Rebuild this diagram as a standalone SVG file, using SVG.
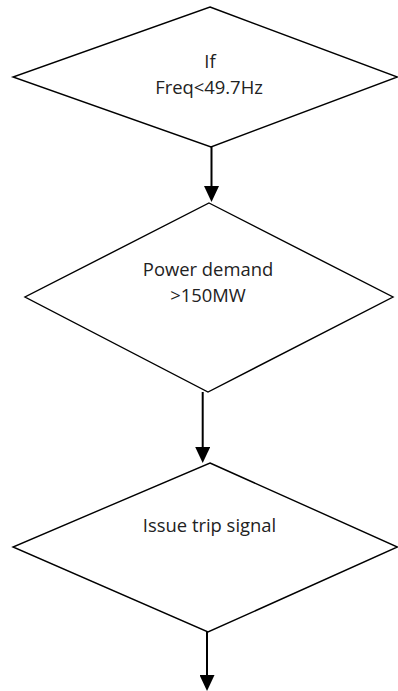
<svg xmlns="http://www.w3.org/2000/svg" width="398" height="691" viewBox="0 0 398 691">
  <style>
    .shape { fill: #ffffff; stroke: #000000; stroke-width: 1.4; stroke-linejoin: miter; }
    .label { font-family: "Open Sans", "Liberation Sans", sans-serif; font-size: 18.4px; fill: #222222; text-anchor: middle; }
    .conn { stroke: #000000; stroke-width: 2; fill: none; }
  </style>
  <defs>
    <marker id="arrow" markerUnits="userSpaceOnUse" viewBox="0 0 16 15" refX="0" refY="7.5" markerWidth="16" markerHeight="15" orient="auto">
      <path d="M0,0 L16,7.5 L0,15 z" fill="#000000"/>
    </marker>
  </defs>
  <rect x="0" y="0" width="398" height="691" fill="#ffffff"/>

  <g id="node-freq">
    <polygon class="shape" points="210,7 397.5,77 211,147 13,77"/>
    <text class="label" x="210" y="67.5">If</text>
    <text class="label" x="209" y="94">Freq&lt;49.7Hz</text>
  </g>

  <g id="node-power">
    <polygon class="shape" points="209,203 393,297 208,392 25,297"/>
    <text class="label" x="208" y="276">Power demand</text>
    <text class="label" x="208" y="301.5">&gt;150MW</text>
  </g>

  <g id="node-trip">
    <polygon class="shape" points="210,463 397.5,547 208,632 13,547"/>
    <text class="label" x="209.5" y="531.5">Issue trip signal</text>
  </g>

  <g id="connectors">
    <line class="conn" x1="211.5" y1="147" x2="211.5" y2="186" marker-end="url(#arrow)"/>
    <line class="conn" x1="202.7" y1="392" x2="202.7" y2="447" marker-end="url(#arrow)"/>
    <line class="conn" x1="207" y1="632" x2="207" y2="675" marker-end="url(#arrow)"/>
  </g>
</svg>
